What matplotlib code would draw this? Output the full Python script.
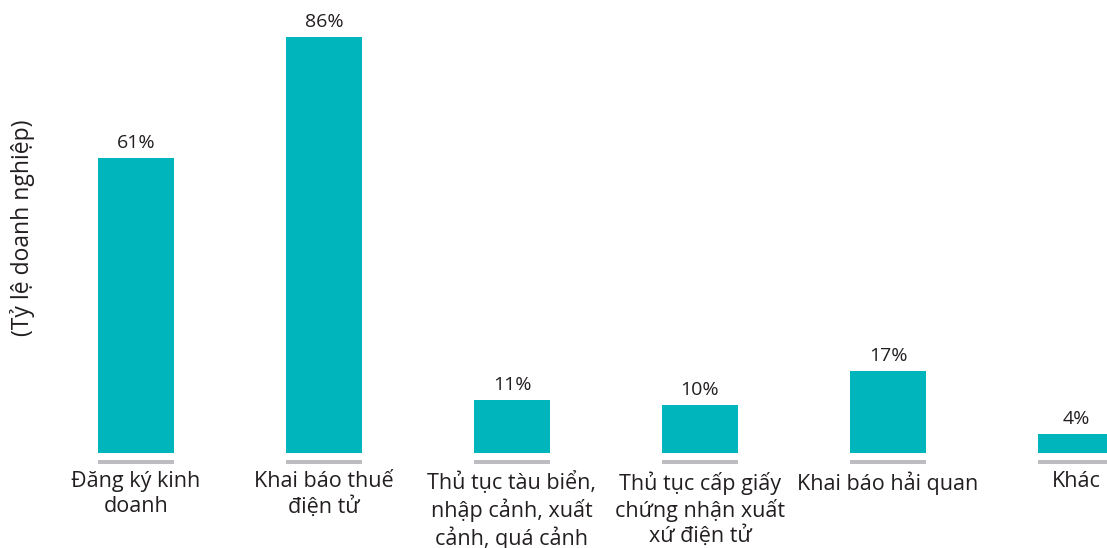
import numpy as np
import matplotlib.pyplot as plt

plt.rcParams['font.family'] = ['Open Sans', 'DejaVu Sans']

categories = ["Đăng ký kinh\ndoanh", "Khai báo thuế\nđiện tử",
              "Thủ tục tàu biển,\nnhập cảnh, xuất\ncảnh, quá cảnh",
              "Thủ tục cấp giấy\nchứng nhận xuất\nxứ điện tử",
              "Khai báo hải quan", "Khác"]
values = [61, 86, 11, 10, 17, 4]
value_labels = ["61%", "86%", "11%", "10%", "17%", "4%"]

teal = "#00B6BC"
grey = "#BDBCC1"
txt = "#231F20"

fig = plt.figure(figsize=(11.07, 5.48), dpi=100)
# baseline at 453px from top, 4.84 px per percent
ax = fig.add_axes([0, 95 / 548, 1, 453 / 548])
ax.set_xlim(-136 / 188, (1107 - 136) / 188)
ax.set_ylim(0, 453 / 4.84)

x = np.arange(len(values))
w = 76 / 188
ax.bar(x, values, width=w, color=teal)
# grey base strips under each bar
ax.bar(x, [-0.8] * len(x), bottom=-1.45, width=w, color=grey, clip_on=False)

for xi, v, lab in zip(x, values, value_labels):
    ax.annotate(lab, (xi, v), xytext=(0, 4), textcoords="offset points",
                ha="center", va="bottom", fontsize=14, color=txt)

for xi, c in zip(x, categories):
    ax.text(xi, -3.8, c, ha="center", va="top", fontsize=15.5, color=txt,
            linespacing=1.22, clip_on=False)

ax.axis("off")
fig.text(0.02, 0.584, "(Tỷ lệ doanh nghiệp)", rotation=90, ha="center", va="center",
         fontsize=16.5, color=txt)

fig.savefig("out.png", dpi=100)
